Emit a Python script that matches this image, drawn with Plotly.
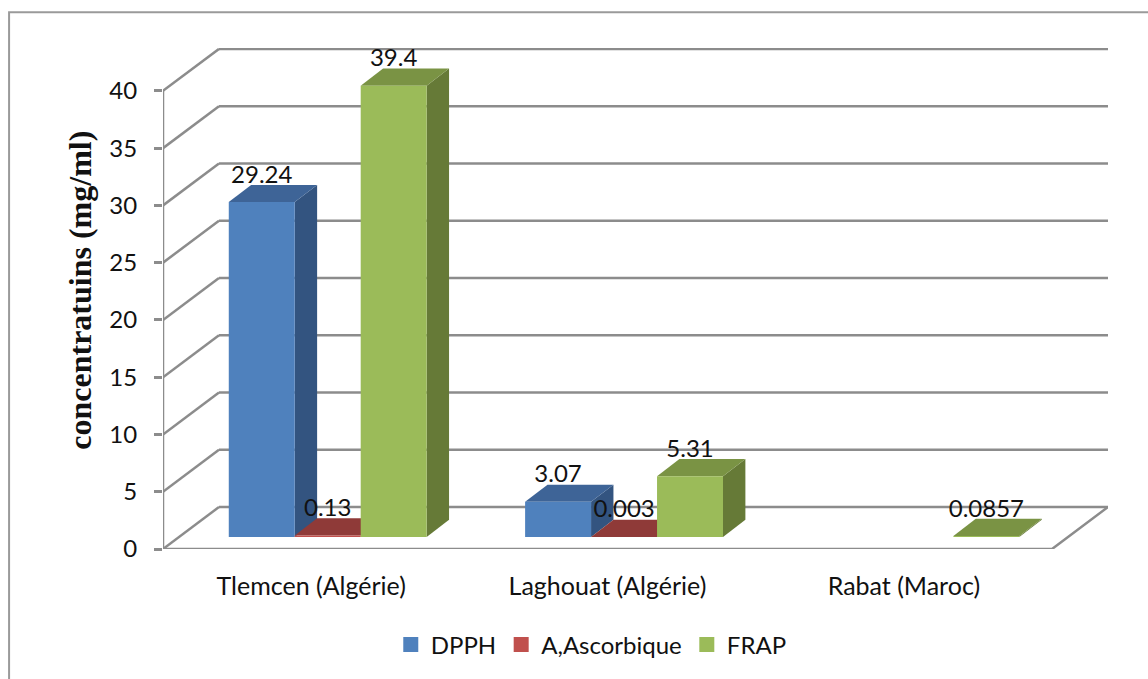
import plotly.graph_objects as go

categories = ["Tlemcen (Algérie)", "Laghouat (Algérie)", "Rabat (Maroc)"]
series_names = ["DPPH", "A,Ascorbique", "FRAP"]
dpph = [29.24, 3.07, None]
ascorbique = [0.13, 0.003, None]
frap = [39.4, 5.31, 0.0857]
y_ticks = [0, 5, 10, 15, 20, 25, 30, 35, 40]

front_colors = ["#4F81BD", "#C0504D", "#9BBB59"]
side_colors = ["#335480", "#8A3A38", "#667A37"]
top_colors = ["#3E6497", "#8F3A38", "#7A9344"]
GRID = "#8C8C8C"
TEXT = "#111111"
FONT = "Lato"
SIZE = 24

# pixel frame of the plot area
L, R, T, B = 162.5, 1108.0, 47.7, 549.0
W, H = 1148, 679
px_x = 296.5          # px per category
px_y = 11.46          # px per value unit
wall_dx = 56 / px_x   # floor depth in x units
wall_dy = 42 / px_y   # floor depth in y units
bar_w = 66 / px_x
bar_dx = 22.4 / px_x
bar_dy = 17.2 / px_y
bar_base = 12 / px_y
group_left = -82.45 / px_x
label_gap = 25.5 / px_y

fig = go.Figure()


def poly(xs, ys, color, group):
    fig.add_trace(go.Scatter(x=xs, y=ys, mode="lines", fill="toself", fillcolor=color,
                             line=dict(width=0, color=color), showlegend=False,
                             hoverinfo="skip", legendgroup=group, cliponaxis=False))


def line(xs, ys):
    fig.add_trace(go.Scatter(x=xs, y=ys, mode="lines", line=dict(color=GRID, width=2.5),
                             showlegend=False, hoverinfo="skip", cliponaxis=False))


x0 = -0.5
x1 = 2.5
# back wall and side wall gridlines
for t in y_ticks:
    line([x0 + wall_dx, x1 + wall_dx], [t + wall_dy, t + wall_dy])
    line([x0, x0 + wall_dx], [t, t + wall_dy])
line([x0, x0], [0, y_ticks[-1]])
line([x0, x1, x1 + wall_dx], [0, 0, wall_dy])

# bars
label_x, label_y, label_t = [], [], []
for s, values in enumerate([dpph, ascorbique, frap]):
    for c, v in enumerate(values):
        if v is None:
            continue
        xl = c + group_left + s * bar_w
        xr = xl + bar_w
        yb = bar_base
        yt = bar_base + v
        poly([xr, xr + bar_dx, xr + bar_dx, xr, xr],
             [yb, yb + bar_dy, yt + bar_dy, yt, yb], side_colors[s], series_names[s])
        poly([xl, xr, xr + bar_dx, xl + bar_dx, xl],
             [yt, yt, yt + bar_dy, yt + bar_dy, yt], top_colors[s], series_names[s])
        poly([xl, xr, xr, xl, xl], [yb, yb, yt, yt, yb], front_colors[s], series_names[s])
        label_x.append((xl + xr) / 2)
        label_y.append(yt + label_gap)
        label_t.append(str(v))

fig.add_trace(go.Scatter(x=label_x, y=label_y, text=label_t, mode="text",
                         textposition="middle center", showlegend=False, hoverinfo="skip",
                         textfont=dict(family=FONT, size=SIZE, color=TEXT), cliponaxis=False))

# legend entries
for s, name in enumerate(series_names):
    fig.add_trace(go.Scatter(x=[None], y=[None], mode="markers", name=name, legendgroup=name,
                             marker=dict(symbol="square", size=15, color=front_colors[s])))

fig.update_layout(
    width=W, height=H, autosize=False,
    margin=dict(l=L, r=W - R, t=T, b=H - B, pad=0),
    paper_bgcolor="white", plot_bgcolor="white",
    font=dict(family=FONT, size=SIZE, color=TEXT),
    xaxis=dict(range=[x0, x1 + wall_dx], tickvals=[0, 1, 2], ticktext=categories,
               showgrid=False, zeroline=False, showline=False, ticks="",
               ticklabelstandoff=20, tickfont=dict(family=FONT, size=25, color=TEXT)),
    yaxis=dict(range=[0, (B - T) / px_y], tickvals=y_ticks, showgrid=False, zeroline=False,
               showline=False, ticks="outside", ticklen=8, tickwidth=2.5, tickcolor=GRID,
               ticklabelstandoff=12, tickfont=dict(family=FONT, size=SIZE, color=TEXT)),
    legend=dict(orientation="h", x=(591 - L) / (R - L), y=(B - 645) / (B - T),
                xanchor="center", yanchor="middle", font=dict(family=FONT, size=SIZE, color=TEXT),
                bgcolor="rgba(0,0,0,0)", itemwidth=30),
    annotations=[dict(text="<b>concentratuins (mg/ml)</b>", textangle=-90, showarrow=False,
                      xref="paper", yref="paper", x=(80 - L) / (R - L), y=(B - 290) / (B - T),
                      xanchor="center", yanchor="middle",
                      font=dict(family="Liberation Serif", size=32, color=TEXT))],
    shapes=[dict(type="rect", xref="paper", yref="paper", layer="below",
                 x0=(8.5 - L) / (R - L), x1=(1170 - L) / (R - L),
                 y0=(B - 720) / (B - T), y1=(B - 12) / (B - T),
                 line=dict(color="#9A9A9A", width=2), fillcolor="rgba(0,0,0,0)")],
)

fig.write_html("out.html", config={"displayModeBar": False},
               post_script="document.body.style.margin='0';document.body.style.overflow='hidden';")
